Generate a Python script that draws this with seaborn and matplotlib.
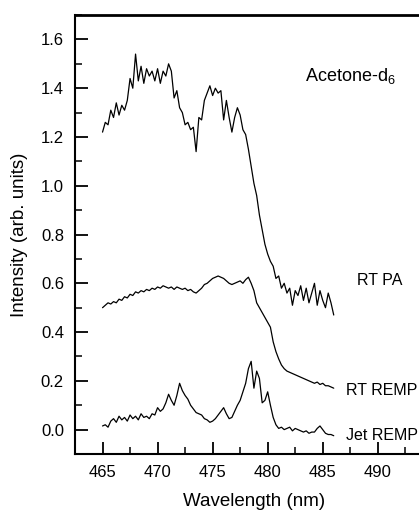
import numpy as np
import pandas as pd
import matplotlib
matplotlib.use("Agg")
import matplotlib.pyplot as plt
import seaborn as sns
from matplotlib.ticker import MultipleLocator, FormatStrFormatter

sns.set_style("ticks")
plt.rcParams['font.family'] = ['Liberation Sans', 'DejaVu Sans']
plt.rcParams['mathtext.fontset'] = 'custom'
plt.rcParams['mathtext.rm'] = 'Liberation Sans'
for k in ['text.color', 'axes.labelcolor', 'axes.edgecolor', 'xtick.color', 'ytick.color']:
    plt.rcParams[k] = 'black'

# wavelength grid (nm), 0.25 nm spacing
wavelength = [465.0 + 0.25 * i for i in range(85)]

rt_pa = [1.22, 1.26, 1.25, 1.31, 1.28, 1.34, 1.29, 1.33, 1.31, 1.35,
         1.44, 1.40, 1.54, 1.43, 1.49, 1.42, 1.48, 1.45, 1.47, 1.43,
         1.48, 1.42, 1.47, 1.45, 1.50, 1.47, 1.36, 1.39, 1.32, 1.30,
         1.25, 1.26, 1.23, 1.24, 1.14, 1.28, 1.27, 1.35, 1.38, 1.41,
         1.37, 1.40, 1.38, 1.39, 1.27, 1.35, 1.28, 1.22, 1.28, 1.32,
         1.29, 1.23, 1.21, 1.15, 1.08, 1.01, 0.96, 0.88, 0.82, 0.76,
         0.72, 0.69, 0.67, 0.62, 0.63, 0.58, 0.60, 0.56, 0.58, 0.51,
         0.57, 0.55, 0.59, 0.53, 0.58, 0.52, 0.56, 0.60, 0.51, 0.57,
         0.53, 0.50, 0.56, 0.52, 0.47]

rt_remp = [0.50, 0.51, 0.52, 0.515, 0.525, 0.52, 0.535, 0.53, 0.545, 0.54,
           0.555, 0.55, 0.565, 0.56, 0.57, 0.565, 0.575, 0.57, 0.58, 0.575,
           0.585, 0.58, 0.59, 0.585, 0.58, 0.585, 0.575, 0.585, 0.58, 0.575,
           0.58, 0.57, 0.575, 0.565, 0.56, 0.57, 0.58, 0.595, 0.60, 0.61,
           0.62, 0.625, 0.63, 0.625, 0.62, 0.61, 0.60, 0.595, 0.60, 0.605,
           0.61, 0.60, 0.615, 0.625, 0.60, 0.57, 0.52, 0.50, 0.48, 0.46,
           0.44, 0.42, 0.36, 0.32, 0.29, 0.265, 0.25, 0.24, 0.235, 0.23,
           0.225, 0.22, 0.215, 0.21, 0.205, 0.20, 0.195, 0.19, 0.195, 0.185,
           0.19, 0.18, 0.18, 0.175, 0.17]

jet_remp = [0.015, 0.02, 0.01, 0.035, 0.045, 0.03, 0.055, 0.04, 0.05, 0.035,
            0.06, 0.045, 0.055, 0.04, 0.065, 0.05, 0.055, 0.045, 0.065, 0.06,
            0.09, 0.075, 0.085, 0.11, 0.145, 0.12, 0.10, 0.14, 0.19, 0.16,
            0.14, 0.125, 0.10, 0.085, 0.07, 0.065, 0.06, 0.045, 0.04, 0.03,
            0.035, 0.045, 0.06, 0.075, 0.09, 0.065, 0.045, 0.05, 0.075, 0.10,
            0.12, 0.155, 0.19, 0.25, 0.28, 0.17, 0.24, 0.21, 0.11, 0.12,
            0.155, 0.10, 0.05, 0.02, 0.005, 0.01, 0.0, 0.005, 0.01, -0.005,
            0.005, 0.0, -0.005, -0.01, -0.005, -0.015, -0.01, -0.01, 0.005, 0.015,
            0.0, -0.015, -0.02, -0.02, -0.025]

labels = ["RT PA", "RT REMP", "Jet REMP"]
label_pos = [(488.1, 0.612), (487.1, 0.161), (487.1, -0.023)]

df = pd.DataFrame({"wl": wavelength, "RT PA": rt_pa,
                   "RT REMP": rt_remp, "Jet REMP": jet_remp})

fig = plt.figure(figsize=(4.19, 5.14), dpi=100)
ax = fig.add_axes([0.179, 0.1167, 0.854, 0.854])

for name in labels:
    sns.lineplot(data=df, x="wl", y=name, ax=ax, color="black", lw=0.9)

ax.set_xlim(462.5, 495)
ax.set_ylim(-0.1, 1.7)
ax.set_xticks([465, 470, 475, 480, 485, 490])
ax.xaxis.set_minor_locator(MultipleLocator(2.5))
ax.yaxis.set_major_locator(MultipleLocator(0.2))
ax.yaxis.set_minor_locator(MultipleLocator(0.1))
ax.xaxis.set_major_formatter(FormatStrFormatter('%d'))
ax.yaxis.set_major_formatter(FormatStrFormatter('%.1f'))
ax.tick_params(which='major', direction='in', length=9, width=1.3, labelsize=12)
ax.tick_params(axis='y', which='major', pad=8)
ax.tick_params(axis='x', which='major', pad=8)
ax.tick_params(which='minor', direction='in', length=5, width=1.1)
for s in ['left', 'bottom']:
    ax.spines[s].set_linewidth(1.5)
ax.spines['top'].set_linewidth(2)
ax.spines['right'].set_visible(False)

ax.set_xlabel("Wavelength (nm)", fontsize=13.5, labelpad=9)
ax.set_ylabel("Intensity (arb. units)", fontsize=13.5, labelpad=9)

ax.text(483.4, 1.452, "Acetone-d$_6$", fontsize=13, va='center', ha='left')
for name, (x, y) in zip(labels, label_pos):
    ax.text(x, y, name, fontsize=11.5, va='center', ha='left')

fig.savefig("out.png", dpi=100)
